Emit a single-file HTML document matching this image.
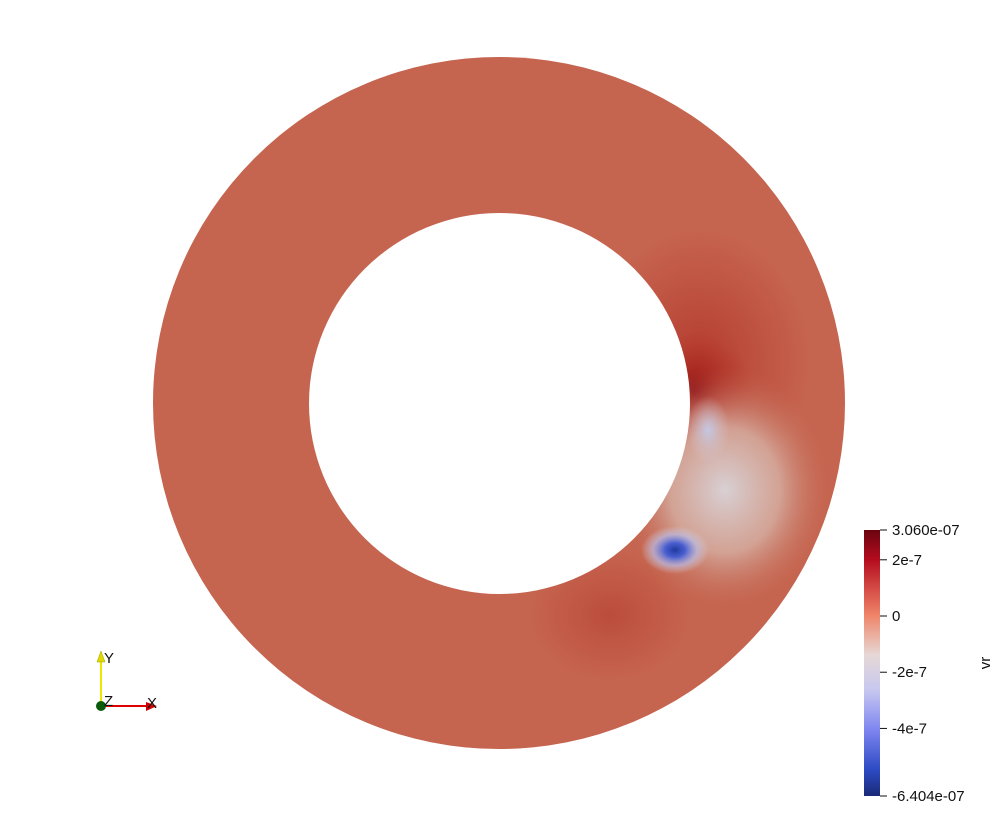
<!DOCTYPE html>
<html><head><meta charset="utf-8"><style>
body{margin:0;background:#fff;width:998px;height:808px;overflow:hidden;font-family:"Liberation Sans",sans-serif}
</style></head><body>
<svg width="998" height="808" xmlns="http://www.w3.org/2000/svg">
<defs>
<mask id="ann"><rect width="998" height="808" fill="#000"/><circle cx="499" cy="403" r="346" fill="#fff"/><circle cx="499.5" cy="403.5" r="190.5" fill="#000"/></mask>
<radialGradient id="dk" cx="0.5" cy="0.5" r="0.5"><stop offset="0" stop-color="#8a0a10"/><stop offset="0.4" stop-color="#a8261f" stop-opacity="0.8"/><stop offset="1" stop-color="#b83a2c" stop-opacity="0"/></radialGradient>
<radialGradient id="dk2" cx="0.5" cy="0.5" r="0.5"><stop offset="0" stop-color="#b2382b" stop-opacity="0.9"/><stop offset="1" stop-color="#b83a2c" stop-opacity="0"/></radialGradient>
<radialGradient id="wh" cx="0.5" cy="0.5" r="0.5"><stop offset="0" stop-color="#d8d0d4"/><stop offset="0.5" stop-color="#d6b2a6" stop-opacity="0.8"/><stop offset="1" stop-color="#c4624c" stop-opacity="0"/></radialGradient>
<radialGradient id="bl" cx="0.5" cy="0.5" r="0.5"><stop offset="0" stop-color="#1f3aa0"/><stop offset="0.3" stop-color="#4a5fd0"/><stop offset="0.65" stop-color="#b8bce8" stop-opacity="0.7"/><stop offset="1" stop-color="#d8d4e0" stop-opacity="0"/></radialGradient>
<radialGradient id="lb" cx="0.5" cy="0.5" r="0.5"><stop offset="0" stop-color="#c4c6e4"/><stop offset="1" stop-color="#d6c4c4" stop-opacity="0"/></radialGradient>
<linearGradient id="cb" x1="0" y1="0" x2="0" y2="1">
<stop offset="0" stop-color="#6b0410"/><stop offset="0.11" stop-color="#b40c1e"/><stop offset="0.32" stop-color="#f08468"/><stop offset="0.47" stop-color="#e6d8d6"/><stop offset="0.6" stop-color="#c8c8ef"/><stop offset="0.75" stop-color="#7f86f0"/><stop offset="0.9" stop-color="#2d4bc4"/><stop offset="1" stop-color="#1a2a78"/></linearGradient>
</defs>
<g mask="url(#ann)">
<rect width="998" height="808" fill="#c5644f"/>
<ellipse cx="700" cy="360" rx="110" ry="130" fill="url(#dk2)"/>
<ellipse cx="695" cy="392" rx="60" ry="60" fill="url(#dk)"/>
<ellipse cx="610" cy="615" rx="80" ry="65" fill="url(#dk2)" opacity="0.6"/>
<ellipse cx="725" cy="490" rx="110" ry="125" fill="url(#wh)"/>
<ellipse cx="708" cy="430" rx="22" ry="34" fill="url(#lb)"/>
<ellipse cx="675" cy="550" rx="34" ry="24" fill="url(#bl)"/>
</g>
<g>
<rect x="864" y="530" width="16" height="266" fill="url(#cb)"/>
<g id="ticks"></g>
<text x="990" y="663" font-size="15" fill="#111" transform="rotate(-90 990 663)" text-anchor="middle">vr</text>
</g>
<g>
<line x1="101" y1="706" x2="101" y2="660" stroke="#e8e800" stroke-width="2"/>
<polygon points="97,662 105,662 101,651" fill="#e0d800" stroke="#a0a000" stroke-width="0.5"/>
<line x1="101" y1="706" x2="148" y2="706" stroke="#e00000" stroke-width="2"/>
<polygon points="146,702 146,711 157,706" fill="#d00000"/>
<circle cx="101" cy="706" r="5" fill="#0a5a0a"/>
<text x="104" y="663" font-size="15" fill="#111">Y</text>
<text x="104" y="706" font-size="15" fill="#111">Z</text>
<text x="147" y="708" font-size="15" fill="#111">X</text>
</g>
</svg>
<script>
const tickValues=[3.060e-7,2e-7,0,-2e-7,-4e-7,-6.404e-7];
const tickLabels=["3.060e-07","2e-7","0","-2e-7","-4e-7","-6.404e-07"];
const vmax=3.060e-7,vmin=-6.404e-7;
function yScale(v){return 530+(vmax-v)/(vmax-vmin)*266;}
const g=document.getElementById('ticks');
const ns="http://www.w3.org/2000/svg";
tickValues.forEach((v,i)=>{
  const y=yScale(v);
  const l=document.createElementNS(ns,'line');
  l.setAttribute('x1',880);l.setAttribute('x2',887);l.setAttribute('y1',y);l.setAttribute('y2',y);
  l.setAttribute('stroke','#111');l.setAttribute('stroke-width','1');
  
  
  g.appendChild(l);
  const t=document.createElementNS(ns,'text');
  t.setAttribute('x',892);t.setAttribute('y',y+5);t.setAttribute('font-size','15');t.setAttribute('fill','#111');
  t.textContent=tickLabels[i];
  
  
  g.appendChild(t);
});
</script>
</body></html>
